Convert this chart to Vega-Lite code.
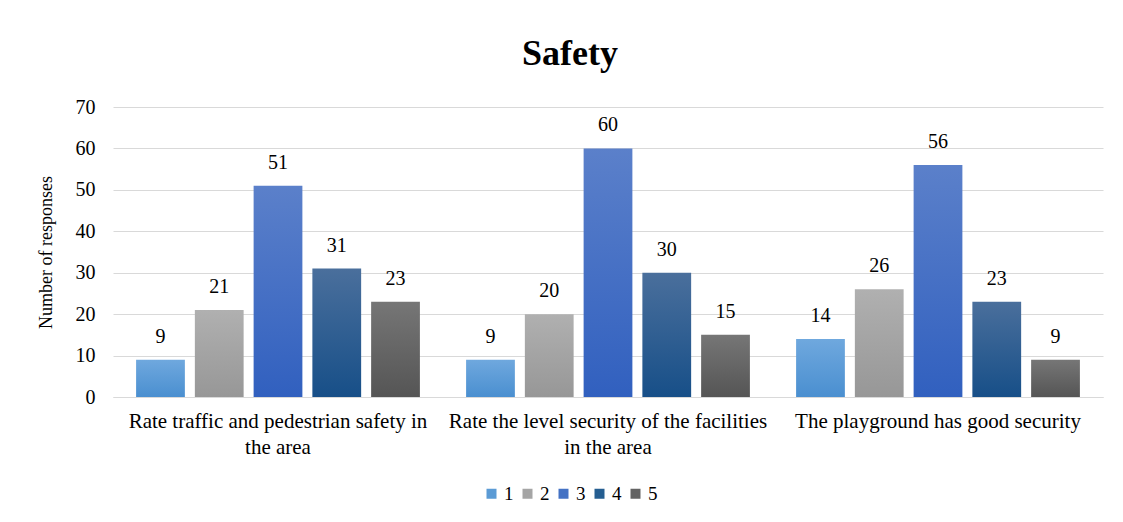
{
  "$schema": "https://vega.github.io/schema/vega-lite/v6.json",
  "width": 990,
  "height": 290,
  "autosize": {"type": "none"},
  "padding": {"left": 113, "top": 107, "right": 20, "bottom": 125},
  "background": "white",
  "title": {
    "text": "Safety",
    "font": "Liberation Serif",
    "fontSize": 36,
    "fontWeight": "bold",
    "color": "#000000",
    "anchor": "middle",
    "dx": -38,
    "offset": 24
  },
  "data": {
    "values": [
      {"question": "Rate traffic and pedestrian safety in the area", "rating": "1", "responses": 9},
      {"question": "Rate traffic and pedestrian safety in the area", "rating": "2", "responses": 21},
      {"question": "Rate traffic and pedestrian safety in the area", "rating": "3", "responses": 51},
      {"question": "Rate traffic and pedestrian safety in the area", "rating": "4", "responses": 31},
      {"question": "Rate traffic and pedestrian safety in the area", "rating": "5", "responses": 23},
      {"question": "Rate the level security of the facilities in the area", "rating": "1", "responses": 9},
      {"question": "Rate the level security of the facilities in the area", "rating": "2", "responses": 20},
      {"question": "Rate the level security of the facilities in the area", "rating": "3", "responses": 60},
      {"question": "Rate the level security of the facilities in the area", "rating": "4", "responses": 30},
      {"question": "Rate the level security of the facilities in the area", "rating": "5", "responses": 15},
      {"question": "The playground has good security", "rating": "1", "responses": 14},
      {"question": "The playground has good security", "rating": "2", "responses": 26},
      {"question": "The playground has good security", "rating": "3", "responses": 56},
      {"question": "The playground has good security", "rating": "4", "responses": 23},
      {"question": "The playground has good security", "rating": "5", "responses": 9}
    ]
  },
  "encoding": {
    "x": {
      "field": "question",
      "type": "nominal",
      "sort": null,
      "scale": {"paddingInner": 0.14, "paddingOuter": 0.07},
      "axis": {
        "title": null,
        "labelAngle": 0,
        "labelFont": "Liberation Serif",
        "labelFontSize": 21,
        "labelColor": "#000000",
        "labelPadding": 13,
        "labelLineHeight": 26,
        "labelLimit": 0,
        "ticks": false,
        "domainColor": "#d9d9d9",
        "domainWidth": 1,
        "labelExpr": "datum.value == 'Rate traffic and pedestrian safety in the area' ? ['Rate traffic and pedestrian safety in', 'the area'] : datum.value == 'Rate the level security of the facilities in the area' ? ['Rate the level security of the facilities', 'in the area'] : datum.value"
      }
    },
    "xOffset": {
      "field": "rating",
      "type": "nominal",
      "scale": {"paddingInner": 0.17, "paddingOuter": 0}
    },
    "y": {
      "field": "responses",
      "type": "quantitative",
      "scale": {"domain": [0, 70]},
      "axis": {
        "title": "Number of responses",
        "titleFont": "Liberation Serif",
        "titleFontSize": 18,
        "titleFontWeight": "normal",
        "titleColor": "#000000",
        "titlePadding": 20,
        "values": [0, 10, 20, 30, 40, 50, 60, 70],
        "labelFont": "Liberation Serif",
        "labelFontSize": 20,
        "labelColor": "#000000",
        "labelPadding": 18,
        "ticks": false,
        "domain": false,
        "grid": true,
        "gridColor": "#d9d9d9",
        "gridWidth": 1
      }
    }
  },
  "layer": [
    {
      "mark": {"type": "bar"},
      "encoding": {
        "fill": {
          "condition": [
            {"test": "datum.rating == '1'", "value": {"gradient": "linear", "x1": 0, "y1": 0, "x2": 0, "y2": 1, "stops": [{"offset": 0, "color": "#6fa8de"}, {"offset": 1, "color": "#4a8fd0"}]}},
            {"test": "datum.rating == '2'", "value": {"gradient": "linear", "x1": 0, "y1": 0, "x2": 0, "y2": 1, "stops": [{"offset": 0, "color": "#b0b0b0"}, {"offset": 1, "color": "#979797"}]}},
            {"test": "datum.rating == '3'", "value": {"gradient": "linear", "x1": 0, "y1": 0, "x2": 0, "y2": 1, "stops": [{"offset": 0, "color": "#5b80ca"}, {"offset": 1, "color": "#3160bf"}]}},
            {"test": "datum.rating == '4'", "value": {"gradient": "linear", "x1": 0, "y1": 0, "x2": 0, "y2": 1, "stops": [{"offset": 0, "color": "#4a6f9c"}, {"offset": 1, "color": "#174f88"}]}}
          ],
          "value": {"gradient": "linear", "x1": 0, "y1": 0, "x2": 0, "y2": 1, "stops": [{"offset": 0, "color": "#767676"}, {"offset": 1, "color": "#555555"}]}
        }
      }
    },
    {
      "mark": {"type": "square", "opacity": 0},
      "encoding": {
        "color": {
          "field": "rating",
          "type": "nominal",
          "scale": {
            "domain": ["1", "2", "3", "4", "5"],
            "range": ["#5b9bd5", "#a5a5a5", "#4472c4", "#255e91", "#636363"]
          },
          "legend": {
            "title": null,
            "orient": "none",
            "direction": "horizontal",
            "legendX": 369,
            "legendY": 377,
            "symbolType": "square",
            "symbolSize": 100,
            "symbolOpacity": 1,
            "symbolStrokeWidth": 0,
            "labelFont": "Liberation Serif",
            "labelFontSize": 19,
            "labelColor": "#000000",
            "labelOffset": 3,
            "columnPadding": 4
          }
        }
      }
    },
    {
      "mark": {
        "type": "text",
        "baseline": "alphabetic",
        "dy": -17,
        "font": "Liberation Serif",
        "fontSize": 20,
        "color": "#000000"
      },
      "encoding": {
        "text": {"field": "responses", "type": "quantitative"}
      }
    }
  ],
  "config": {
    "font": "Liberation Serif",
    "view": {"stroke": null}
  }
}
